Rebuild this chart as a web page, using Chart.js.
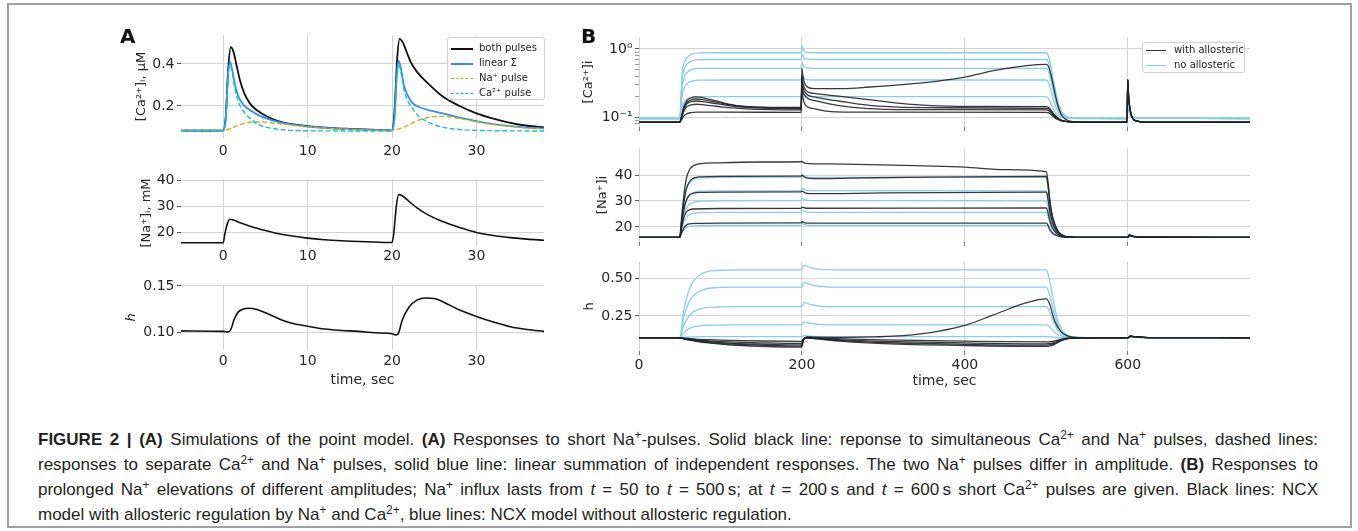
<!DOCTYPE html>
<html>
<head>
<meta charset="utf-8">
<script src="https://cdn.jsdelivr.net/npm/chart.js@4.4.0/dist/chart.umd.min.js"></script>
<style>
body { margin: 0; background: #fff; width: 1358px; height: 531px; overflow: hidden; position: relative; font-family: "DejaVu Sans", sans-serif; }
canvas { position: absolute; }
.frame { position: absolute; left: 7px; top: 3px; width: 1345px; height: 525px; border: 2px solid #a0a0a0; box-sizing: border-box; }
.plab { position: absolute; font: bold 20px "DejaVu Sans", sans-serif; line-height: 20px; color: #111; }
.legend { position: absolute; background: #fff; border: 1px solid #d0d0d0; border-radius: 3px; box-sizing: border-box; font: 10px "DejaVu Sans", sans-serif; color: #222; }
.legend .row { position: absolute; height: 12px; line-height: 12px; white-space: nowrap; }
.legend .sw { position: absolute; top: 5px; height: 0; }
.cap { position: absolute; left: 38px; top: 427px; width: 1280px; font-family: "Liberation Sans Narrow", "Liberation Sans", sans-serif; font-size: 17px; line-height: 25px; color: #231f20; }
.cap .ln { height: 25px; }
.cap .j { text-align: justify; text-align-last: justify; }
.cap sup { font-size: 70%; line-height: 0; vertical-align: 0.5em; }
</style>
</head>
<body>
<div class="frame"></div>

<canvas id="aCa"></canvas>
<canvas id="aNa"></canvas>
<canvas id="aH"></canvas>
<canvas id="bCa"></canvas>
<canvas id="bNa"></canvas>
<canvas id="bH"></canvas>

<div class="plab" style="left:120px;top:26px">A</div>
<div class="plab" style="left:581px;top:26px">B</div>

<div class="legend" style="left:447px;top:37px;width:98px;height:63px">
  <div class="row" style="left:31px;top:4px">both pulses</div>
  <div class="sw" style="left:3px;top:10px;width:22px;border-top:2px solid #111"></div>
  <div class="row" style="left:31px;top:19px">linear Σ</div>
  <div class="sw" style="left:3px;top:25px;width:22px;border-top:2px solid #3590ec"></div>
  <div class="row" style="left:31px;top:34px">Na⁺ pulse</div>
  <div class="sw" style="left:3px;top:40px;width:22px;border-top:1.5px dashed #c4b41c"></div>
  <div class="row" style="left:31px;top:49px">Ca²⁺ pulse</div>
  <div class="sw" style="left:3px;top:55px;width:22px;border-top:1.5px dashed #1bbfcf"></div>
</div>

<div class="legend" style="left:1142px;top:42px;width:103px;height:31px">
  <div class="row" style="left:31px;top:1px">with allosteric</div>
  <div class="sw" style="left:3px;top:7px;width:20px;border-top:1.5px solid #333"></div>
  <div class="row" style="left:31px;top:16px">no allosteric</div>
  <div class="sw" style="left:3px;top:22px;width:20px;border-top:1.5px solid #87ceeb"></div>
</div>

<div class="cap">
  <div class="ln j"><b>FIGURE 2 | (A)</b> Simulations of the point model. <b>(A)</b> Responses to short Na<sup>+</sup>-pulses. Solid black line: reponse to simultaneous Ca<sup>2+</sup> and Na<sup>+</sup> pulses, dashed lines:</div>
  <div class="ln j">responses to separate Ca<sup>2+</sup> and Na<sup>+</sup> pulses, solid blue line: linear summation of independent responses. The two Na<sup>+</sup> pulses differ in amplitude. <b>(B)</b> Responses to</div>
  <div class="ln j">prolonged Na<sup>+</sup> elevations of different amplitudes; Na<sup>+</sup> influx lasts from <i>t</i> = 50 to <i>t</i> = 500&#8201;s; at <i>t</i> = 200&#8201;s and <i>t</i> = 600&#8201;s short Ca<sup>2+</sup> pulses are given. Black lines: NCX</div>
  <div class="ln">model with allosteric regulation by Na<sup>+</sup> and Ca<sup>2+</sup>, blue lines: NCX model without allosteric regulation.</div>
</div>

<script>
// ---- panel A : short pulses, [time, value]
var caBoth = [[-5,0.083],[0,0.083],[0.3,0.15],[0.6,0.38],[0.9,0.48],[1.2,0.46],[1.6,0.39],[2,0.32],[2.5,0.26],[3.2,0.21],[4,0.18],[5.2,0.15],[6.5,0.128],[8.3,0.112],[10,0.104],[12.5,0.096],[15,0.091],[17.5,0.087],[20,0.084],[20.3,0.18],[20.6,0.42],[20.9,0.52],[21.3,0.5],[21.8,0.45],[22.2,0.41],[23,0.36],[24.2,0.31],[26,0.245],[28,0.2],[30,0.165],[32,0.14],[34,0.12],[36,0.106],[38,0.098]];
var caLinSum = [[-5,0.083],[0,0.083],[0.3,0.14],[0.55,0.33],[0.8,0.41],[1.05,0.375],[1.4,0.3],[1.8,0.245],[2.4,0.205],[3.2,0.18],[4,0.16],[5,0.142],[6.4,0.125],[8,0.112],[10,0.102],[12.5,0.095],[15,0.09],[17.5,0.086],[20,0.084],[20.3,0.145],[20.55,0.34],[20.8,0.415],[21.05,0.38],[21.4,0.3],[21.8,0.255],[22.4,0.215],[23.2,0.195],[24.2,0.182],[25.2,0.172],[26.5,0.16],[28,0.145],[30,0.128],[32,0.114],[34,0.104],[36,0.097],[38,0.093]];
var caNaPulse = [[-5,0.083],[0,0.083],[0.8,0.092],[1.6,0.105],[2.5,0.117],[3.5,0.124],[5,0.123],[7,0.114],[10,0.1],[13,0.092],[16,0.087],[20,0.084],[21,0.094],[22,0.11],[23,0.13],[24,0.143],[25,0.15],[26.5,0.15],[28,0.14],[30,0.125],[32,0.112],[34,0.102],[36,0.095],[38,0.091]];
var caCaPulse = [[-5,0.081],[0,0.081],[0.3,0.14],[0.55,0.33],[0.8,0.4],[1.05,0.36],[1.4,0.28],[1.8,0.22],[2.4,0.175],[3.2,0.14],[4,0.115],[5,0.1],[6.4,0.09],[8,0.084],[10,0.082],[20,0.081],[20.3,0.14],[20.55,0.33],[20.8,0.4],[21.05,0.36],[21.4,0.28],[21.8,0.23],[22.4,0.19],[23.2,0.15],[24.2,0.125],[25.2,0.108],[26.5,0.095],[28,0.088],[30,0.084],[33,0.082],[38,0.081]];
var naA = [[-5,16],[0,16],[0.2,19.5],[0.5,23.5],[0.8,25.1],[1.2,24.8],[2,23.7],[3,22.6],[4,21.6],[6,19.9],[8,18.7],[10,17.8],[12,17.2],[14,16.8],[17,16.4],[20,16.1],[20.2,19.5],[20.5,30],[20.8,34.6],[21.2,34.2],[22,32],[23,29.4],[24.2,26.9],[26,24.2],[28,21.9],[30,20],[32,18.8],[34,18],[36,17.4],[38,17]];
var hA = [[-5,0.1015],[0,0.101],[0.6,0.1005],[0.9,0.103],[1.3,0.114],[1.8,0.122],[2.5,0.1255],[3,0.126],[4,0.1245],[5,0.121],[6,0.117],[7,0.113],[8,0.11],[10,0.1065],[12,0.1035],[14,0.102],[16,0.101],[18,0.0995],[20,0.0985],[20.4,0.0972],[20.7,0.098],[21.2,0.113],[22,0.127],[23,0.135],[24,0.137],[25,0.1365],[26,0.133],[28,0.124],[30,0.117],[32,0.111],[34,0.106],[36,0.103],[38,0.101]];

// ---- panel B : prolonged Na+ influx, with allosteric (black) / no allosteric (blue)
var caWith1 = [[0,0.084],[50,0.084],[52,0.1],[55,0.14],[59,0.175],[64,0.193],[70,0.198],[80,0.19],[95,0.172],[110,0.155],[130,0.143],[160,0.139],[199,0.138],[200,0.52],[201,0.42],[203,0.32],[207,0.275],[215,0.262],[250,0.262],[283,0.276],[324,0.3],[365,0.335],[400,0.385],[435,0.48],[476,0.57],[500,0.595],[503,0.54],[506,0.4],[510,0.24],[514,0.15],[518,0.11],[524,0.092],[535,0.085],[599,0.084],[600,0.35],[601,0.2],[604,0.11],[610,0.088],[625,0.084],[750,0.084]];
var caWith2 = [[0,0.084],[50,0.084],[52,0.098],[55,0.135],[59,0.165],[64,0.18],[70,0.184],[80,0.178],[95,0.165],[110,0.152],[130,0.142],[160,0.137],[199,0.135],[200,0.4],[201,0.33],[203,0.27],[207,0.235],[215,0.222],[250,0.2],[290,0.175],[330,0.155],[370,0.146],[420,0.143],[500,0.142],[503,0.138],[506,0.125],[510,0.108],[514,0.097],[518,0.09],[524,0.086],[535,0.084],[599,0.084],[600,0.35],[601,0.2],[604,0.11],[610,0.088],[625,0.084],[750,0.084]];
var caWith3 = [[0,0.084],[50,0.084],[52,0.097],[55,0.13],[59,0.157],[64,0.168],[70,0.172],[80,0.167],[95,0.157],[110,0.147],[130,0.139],[160,0.134],[199,0.132],[200,0.33],[201,0.28],[203,0.24],[207,0.21],[215,0.198],[240,0.175],[270,0.155],[300,0.143],[350,0.137],[500,0.134],[503,0.131],[506,0.12],[510,0.105],[514,0.096],[518,0.09],[524,0.086],[535,0.084],[599,0.084],[600,0.35],[601,0.2],[604,0.11],[610,0.088],[625,0.084],[750,0.084]];
var caWith4 = [[0,0.084],[50,0.084],[52,0.095],[55,0.122],[59,0.143],[64,0.151],[70,0.154],[80,0.151],[95,0.144],[110,0.137],[130,0.132],[160,0.128],[199,0.127],[200,0.28],[201,0.24],[203,0.21],[207,0.188],[215,0.175],[235,0.155],[260,0.14],[290,0.132],[350,0.128],[500,0.127],[503,0.124],[506,0.115],[510,0.102],[514,0.094],[518,0.089],[524,0.086],[535,0.084],[599,0.084],[600,0.35],[601,0.2],[604,0.11],[610,0.088],[625,0.084],[750,0.084]];
var caWith5 = [[0,0.084],[50,0.084],[52,0.09],[55,0.103],[59,0.112],[64,0.116],[70,0.118],[100,0.118],[199,0.117],[200,0.24],[201,0.2],[203,0.16],[207,0.14],[215,0.133],[230,0.122],[260,0.118],[500,0.117],[503,0.115],[506,0.108],[510,0.098],[514,0.092],[518,0.088],[524,0.086],[535,0.084],[599,0.084],[600,0.35],[601,0.2],[604,0.11],[610,0.088],[625,0.084],[750,0.084]];

var caNo1 = [[0,0.095],[50,0.095],[53,0.448],[56,0.645],[60,0.77],[65,0.84],[75,0.875],[100,0.88],[199,0.88],[200,1.12],[202,0.95],[206,0.89],[220,0.88],[500,0.88],[503,0.762],[506,0.527],[510,0.291],[515,0.158],[520,0.115],[528,0.099],[540,0.096],[599,0.095],[600,0.16],[602,0.115],[606,0.1],[615,0.096],[750,0.095]];
var caNo2 = [[0,0.095],[50,0.095],[53,0.367],[56,0.52],[60,0.618],[65,0.67],[75,0.696],[100,0.7],[199,0.7],[200,0.84],[202,0.75],[206,0.71],[220,0.7],[500,0.7],[503,0.609],[506,0.428],[510,0.246],[515,0.143],[520,0.11],[528,0.098],[540,0.096],[599,0.095],[600,0.16],[602,0.115],[606,0.1],[615,0.096],[750,0.095]];
var caNo3 = [[0,0.095],[50,0.095],[53,0.286],[56,0.392],[60,0.463],[65,0.499],[75,0.517],[100,0.52],[199,0.52],[200,0.62],[202,0.555],[206,0.528],[220,0.52],[500,0.52],[503,0.456],[506,0.329],[510,0.201],[515,0.129],[520,0.106],[528,0.097],[540,0.096],[599,0.095],[600,0.16],[602,0.115],[606,0.1],[615,0.096],[750,0.095]];
var caNo4 = [[0,0.095],[50,0.095],[53,0.21],[56,0.274],[60,0.316],[65,0.337],[75,0.348],[100,0.35],[199,0.35],[200,0.42],[202,0.375],[206,0.355],[220,0.35],[500,0.35],[503,0.312],[506,0.235],[510,0.159],[515,0.115],[520,0.101],[528,0.096],[540,0.0955],[599,0.095],[600,0.16],[602,0.115],[606,0.1],[615,0.096],[750,0.095]];
var caNo5 = [[0,0.095],[50,0.095],[53,0.142],[56,0.169],[60,0.186],[65,0.195],[75,0.199],[100,0.2],[199,0.2],[200,0.245],[202,0.215],[206,0.203],[220,0.2],[500,0.2],[503,0.184],[506,0.153],[510,0.121],[515,0.103],[520,0.098],[528,0.0955],[540,0.095],[599,0.095],[600,0.16],[602,0.115],[606,0.1],[615,0.096],[750,0.095]];

var naWith1 = [[0,16],[50,16],[52,22],[55,32],[58,38.5],[62,42],[67,43.6],[75,44.3],[100,44.7],[150,45],[199,45.1],[200,45.2],[203,44.6],[210,44.4],[250,44.2],[300,43.9],[350,43.5],[400,43],[450,42.1],[500,41.3],[502,37.5],[505,28.6],[508,23.6],[512,19.9],[516,17.8],[522,16.5],[530,16.1],[540,16],[599,16],[600,16],[602,16.8],[606,16.4],[620,16.05],[750,16]];
var naWith2 = [[0,16],[50,16],[52,21],[55,29],[58,34.5],[62,37.5],[67,38.8],[75,39.3],[100,39.5],[199,39.6],[200,39.8],[205,38.9],[215,38.6],[260,38.8],[350,39.2],[500,39.5],[502,36],[505,27.7],[508,23],[512,19.5],[516,17.6],[522,16.5],[530,16.1],[540,16],[599,16],[600,16],[602,16.8],[606,16.4],[620,16.05],[750,16]];
var naWith3 = [[0,16],[50,16],[52,20],[55,26.5],[58,30.2],[62,32.3],[67,33],[75,33.3],[100,33.4],[199,33.5],[200,33.8],[205,33],[215,32.8],[300,33.1],[500,33.4],[502,30.8],[505,24.7],[508,21.2],[512,18.6],[516,17.2],[522,16.4],[530,16.1],[540,16],[599,16],[600,16],[602,16.8],[606,16.4],[620,16.05],[750,16]];
var naWith4 = [[0,16],[50,16],[52,19],[55,23.5],[58,25.7],[62,26.6],[67,26.9],[100,27.1],[199,27.2],[200,27.6],[205,27.2],[500,27.3],[502,25.6],[505,21.6],[508,19.4],[512,17.7],[516,16.8],[522,16.2],[530,16.05],[540,16],[599,16],[600,16],[602,16.8],[606,16.4],[620,16.05],[750,16]];
var naWith5 = [[0,16],[50,16],[52,17.5],[55,19.6],[58,20.7],[62,21.2],[70,21.4],[100,21.5],[199,21.6],[200,22],[205,21.5],[500,21.5],[502,20.7],[505,18.7],[508,17.6],[512,16.8],[516,16.4],[522,16.1],[530,16],[599,16],[600,16],[602,16.8],[606,16.4],[620,16.05],[750,16]];

var naNo1 = [[0,16],[50,16],[52,23.6],[55,30.6],[58,34.5],[62,37],[67,38.3],[75,38.9],[100,39.1],[199,39.2],[200,40.3],[203,39.6],[210,39.1],[500,39.1],[502,35.6],[505,27.5],[508,22.8],[512,19.5],[516,17.6],[522,16.5],[530,16.05],[540,16],[599,16],[600,16],[602,17],[606,16.5],[620,16.05],[750,16]];
var naNo2 = [[0,16],[50,16],[52,21.9],[55,27.3],[58,30.3],[62,32.3],[67,33.3],[75,33.8],[100,33.9],[199,34],[200,35],[203,34.4],[210,34],[500,33.9],[502,31.1],[505,24.9],[508,21.3],[512,18.7],[516,17.2],[522,16.4],[530,16.05],[540,16],[599,16],[600,16],[602,17],[606,16.5],[620,16.05],[750,16]];
var naNo3 = [[0,16],[50,16],[52,20.6],[55,24.8],[58,27.2],[62,28.7],[67,29.5],[75,29.9],[100,30],[199,30.1],[200,31.1],[203,30.5],[210,30.1],[500,30],[502,27.9],[505,23],[508,20.2],[512,18.1],[516,17],[522,16.3],[530,16],[599,16],[600,16],[602,17],[606,16.5],[620,16.05],[750,16]];
var naNo4 = [[0,16],[50,16],[52,19.2],[55,22],[58,23.7],[62,24.7],[67,25.3],[75,25.5],[100,25.6],[199,25.6],[200,26.6],[203,26],[210,25.6],[500,25.6],[502,24.2],[505,20.8],[508,18.9],[512,17.4],[516,16.7],[522,16.2],[530,16],[599,16],[600,16],[602,17],[606,16.5],[620,16.05],[750,16]];
var naNo5 = [[0,16],[50,16],[52,17.5],[55,18.9],[58,19.7],[62,20.2],[67,20.4],[75,20.55],[100,20.6],[199,20.6],[200,21.4],[203,20.9],[210,20.6],[500,20.6],[502,19.9],[505,18.3],[508,17.4],[512,16.7],[516,16.3],[522,16.1],[530,16],[599,16],[600,16],[602,17],[606,16.5],[620,16.05],[750,16]];

var hWith1 = [[0,0.104],[50,0.104],[55,0.096],[60,0.09],[70,0.08],[85,0.069],[110,0.057],[150,0.047],[199,0.041],[200,0.045],[202,0.095],[206,0.11],[215,0.108],[250,0.107],[290,0.11],[324,0.118],[365,0.145],[402,0.19],[435,0.257],[476,0.339],[500,0.364],[504,0.33],[510,0.22],[518,0.145],[525,0.118],[532,0.108],[545,0.104],[599,0.104],[600,0.104],[603,0.114],[610,0.11],[625,0.105],[750,0.104]];
var hWith2 = [[0,0.104],[50,0.104],[55,0.097],[60,0.092],[70,0.083],[85,0.073],[110,0.063],[150,0.054],[199,0.048],[200,0.05],[202,0.09],[206,0.102],[215,0.098],[250,0.08],[300,0.065],[400,0.052],[500,0.046],[505,0.05],[510,0.06],[515,0.075],[520,0.088],[527,0.098],[535,0.102],[550,0.104],[599,0.104],[600,0.104],[603,0.114],[610,0.11],[625,0.105],[750,0.104]];
var hWith3 = [[0,0.104],[50,0.104],[55,0.098],[60,0.093],[70,0.086],[85,0.078],[110,0.068],[150,0.061],[199,0.056],[200,0.058],[202,0.092],[206,0.104],[215,0.1],[250,0.085],[300,0.072],[400,0.06],[500,0.054],[505,0.057],[510,0.066],[515,0.079],[520,0.09],[527,0.099],[535,0.102],[550,0.104],[599,0.104],[600,0.104],[603,0.114],[610,0.11],[625,0.105],[750,0.104]];
var hWith4 = [[0,0.104],[50,0.104],[55,0.099],[60,0.096],[70,0.09],[85,0.083],[110,0.076],[150,0.07],[199,0.066],[200,0.068],[202,0.095],[206,0.105],[215,0.102],[250,0.09],[300,0.08],[400,0.069],[500,0.063],[505,0.066],[510,0.073],[515,0.083],[520,0.092],[527,0.1],[535,0.103],[550,0.104],[599,0.104],[600,0.104],[603,0.114],[610,0.11],[625,0.105],[750,0.104]];
var hWith5 = [[0,0.104],[50,0.104],[55,0.101],[60,0.099],[70,0.095],[85,0.091],[110,0.086],[150,0.082],[199,0.08],[200,0.082],[202,0.098],[206,0.106],[215,0.104],[250,0.097],[300,0.09],[400,0.081],[500,0.076],[505,0.078],[510,0.083],[515,0.09],[520,0.096],[527,0.101],[535,0.103],[550,0.104],[599,0.104],[600,0.104],[603,0.114],[610,0.11],[625,0.105],[750,0.104]];

var hNo1 = [[0,0.104],[50,0.104],[55,0.286],[60,0.4],[65,0.468],[70,0.504],[80,0.541],[95,0.555],[120,0.559],[199,0.559],[200,0.565],[203,0.59],[210,0.575],[225,0.562],[240,0.559],[500,0.559],[503,0.514],[507,0.4],[511,0.286],[515,0.204],[520,0.15],[527,0.118],[535,0.109],[550,0.104],[599,0.104],[600,0.104],[603,0.111],[610,0.108],[625,0.104],[750,0.104]];
var hNo2 = [[0,0.104],[50,0.104],[55,0.24],[60,0.324],[65,0.375],[70,0.402],[80,0.429],[95,0.44],[120,0.443],[199,0.443],[200,0.448],[203,0.475],[210,0.46],[225,0.447],[240,0.443],[500,0.443],[503,0.409],[507,0.324],[511,0.24],[515,0.179],[520,0.138],[527,0.114],[535,0.107],[550,0.104],[599,0.104],[600,0.104],[603,0.111],[610,0.108],[625,0.104],[750,0.104]];
var hNo3 = [[0,0.104],[50,0.104],[55,0.187],[60,0.239],[65,0.27],[70,0.287],[80,0.304],[95,0.31],[120,0.312],[199,0.312],[200,0.316],[203,0.34],[210,0.328],[225,0.315],[240,0.312],[500,0.312],[503,0.291],[507,0.239],[511,0.187],[515,0.15],[520,0.125],[527,0.11],[535,0.106],[550,0.104],[599,0.104],[600,0.104],[603,0.111],[610,0.108],[625,0.104],[750,0.104]];
var hNo4 = [[0,0.104],[50,0.104],[55,0.138],[60,0.16],[65,0.173],[70,0.18],[80,0.187],[95,0.189],[120,0.19],[199,0.19],[200,0.193],[203,0.21],[210,0.2],[225,0.192],[240,0.19],[500,0.19],[503,0.181],[507,0.16],[511,0.138],[515,0.123],[520,0.113],[527,0.107],[535,0.105],[550,0.104],[599,0.104],[600,0.104],[603,0.111],[610,0.108],[625,0.104],[750,0.104]];
var hNo5 = [[0,0.104],[50,0.104],[55,0.107],[60,0.109],[65,0.11],[70,0.111],[80,0.112],[199,0.112],[200,0.113],[203,0.118],[210,0.114],[225,0.112],[500,0.112],[503,0.111],[507,0.109],[511,0.107],[515,0.106],[520,0.105],[535,0.104],[599,0.104],[600,0.104],[603,0.111],[610,0.108],[625,0.104],[750,0.104]];

// tick values
var xTicksA = [0, 10, 20, 30];
var xTicksB = [0, 200, 400, 600];
var caTicksA = [0.2, 0.4];
var naTicks = [20, 30, 40];
var hTicksA = [0.10, 0.15];
var caTicksB = [0.08, 0.09, 0.1, 0.2, 0.3, 0.4, 0.5, 0.6, 0.7, 0.8, 0.9, 1];
var caMajorB = [0.1, 1];
var hTicksB = [0.25, 0.5];

var GRID = '#d3d3d3';
var TXT = '#262626';
var BLACK_B = 'rgba(35,35,35,0.9)';
var BLUE_B = '#87ceeb';

Chart.defaults.font.family = 'DejaVu Sans';

function pts(a) {
    return a.map(function (p) { return {x: p[0], y: p[1]}; });
}

function line(a, color, width, dash) {
    return {data: pts(a), borderColor: color, borderWidth: width, borderDash: dash || [],
            pointRadius: 0, fill: false, cubicInterpolationMode: 'monotone', borderJoinStyle: 'round'};
}

function xAxis(min, max, ticks, o) {
    return {
        type: 'linear', min: min, max: max,
        afterBuildTicks: function (s) { s.ticks = ticks.map(function (v) { return {value: v}; }); },
        afterFit: function (s) { s.height = o.hx; },
        grid: {color: GRID, drawTicks: o.marks, tickLength: 4, tickColor: '#777'},
        border: {display: false},
        ticks: {display: o.labels, padding: o.pad, color: TXT, font: {size: 14}, maxRotation: 0, autoSkip: false},
        title: {display: !!o.title, text: o.title || '', color: TXT, font: {size: 14}, padding: 0}
    };
}

function yAxis(type, min, max, ticks, fmt, o) {
    var isMajor = function (ctx) { return !o.major || (ctx.tick && o.major.indexOf(ctx.tick.value) >= 0); };
    return {
        type: type, min: min, max: max,
        afterBuildTicks: function (s) { s.ticks = ticks.map(function (v) { return {value: v}; }); },
        afterFit: function (s) { s.width = o.wy; },
        grid: {color: function (ctx) { return isMajor(ctx) ? GRID : 'rgba(0,0,0,0)'; },
               drawTicks: true,
               tickLength: 4,
               tickColor: '#555',
               tickWidth: function (ctx) { return isMajor(ctx) ? 1 : 0.6; }},
        border: {display: false},
        ticks: {color: TXT, font: {size: 14}, padding: 2.5, autoSkip: false, callback: fmt},
        title: {display: true, text: o.title, color: TXT, font: {size: 13, style: o.italic ? 'italic' : 'normal'}, padding: 0}
    };
}

// g = plot area in page pixels + reserved axis width / height
function panel(id, g, datasets, xs, ys) {
    var cv = document.getElementById(id);
    var left = g.l - g.wy, top = g.t - 14;
    cv.width = g.r + 10 - left;
    cv.height = g.b + g.hx - top;
    cv.style.left = left + 'px';
    cv.style.top = top + 'px';
    return new Chart(cv, {
        type: 'line',
        data: {datasets: datasets},
        options: {
            responsive: false, animation: false, events: [],
            layout: {padding: {top: 14, right: 10, left: 0, bottom: 0}},
            plugins: {legend: {display: false}, tooltip: {enabled: false}},
            scales: {x: xs, y: ys}
        }
    });
}

var fix1 = function (v) { return v.toFixed(1); };
var fix2 = function (v) { return v.toFixed(2); };
var int0 = function (v) { return String(v); };
var pow10 = function (v) { return v === 1 ? '10⁰' : (v === 0.1 ? '10⁻¹' : ''); };

// ---- panel A
panel('aCa', {l: 181, r: 544, t: 35, b: 138, wy: 47, hx: 25}, [
    line(caCaPulse, '#1bbfcf', 1.4, [5, 2.5]),
    line(caNaPulse, '#c4b41c', 1.4, [5, 2.5]),
    line(caLinSum, '#3590ec', 1.8),
    line(caBoth, '#111111', 1.8)
], xAxis(-5, 38, xTicksA, {hx: 25, marks: false, labels: true, pad: 5}),
   yAxis('linear', 0.0476, 0.538, caTicksA, fix1, {wy: 47, title: '[Ca²⁺]ᵢ, μM'}));

panel('aNa', {l: 181, r: 544, t: 179, b: 247, wy: 42, hx: 20}, [
    line(naA, '#111111', 1.6)
], xAxis(-5, 38, xTicksA, {hx: 20, marks: false, labels: true, pad: 1}),
   yAxis('linear', 14.37, 40.65, naTicks, int0, {wy: 42, title: '[Na⁺]ᵢ, mM'}));

panel('aH', {l: 181, r: 544, t: 285, b: 350, wy: 57, hx: 39}, [
    line(hA, '#111111', 1.6)
], xAxis(-5, 38, xTicksA, {hx: 39, marks: false, labels: true, pad: 3, title: 'time, sec'}),
   yAxis('linear', 0.0809, 0.151, hTicksA, fix2, {wy: 57, title: 'h', italic: true}));

// ---- panel B
function bSets(w, n) {
    var out = [];
    w.forEach(function (a) { out.push(line(a, BLACK_B, 1.3)); });
    n.forEach(function (a) { out.push(line(a, BLUE_B, 1.3)); });
    return out;
}

panel('bCa', {l: 639, r: 1250, t: 37, b: 127, wy: 58, hx: 12},
    bSets([caWith1, caWith2, caWith3, caWith4, caWith5], [caNo1, caNo2, caNo3, caNo4, caNo5]),
    xAxis(0, 750, xTicksB, {hx: 12, marks: true, labels: false, pad: 2}),
    yAxis('logarithmic', 0.0713, 1.5, caTicksB, pow10, {wy: 58, title: '[Ca²⁺]i', major: caMajorB}));

panel('bNa', {l: 639, r: 1250, t: 148, b: 242, wy: 44, hx: 12},
    bSets([naWith1, naWith2, naWith3, naWith4, naWith5], [naNo1, naNo2, naNo3, naNo4, naNo5]),
    xAxis(0, 750, xTicksB, {hx: 12, marks: true, labels: false, pad: 2}),
    yAxis('linear', 14.2, 50.4, naTicks, int0, {wy: 44, title: '[Na⁺]i'}));

panel('bH', {l: 639, r: 1250, t: 262, b: 351, wy: 57, hx: 39},
    bSets([hWith1, hWith2, hWith3, hWith4, hWith5], [hNo1, hNo2, hNo3, hNo4, hNo5]),
    xAxis(0, 750, xTicksB, {hx: 39, marks: true, labels: true, pad: 2, title: 'time, sec'}),
    yAxis('linear', 0.015, 0.612, hTicksB, fix2, {wy: 57, title: 'h'}));
</script>
</body>
</html>
